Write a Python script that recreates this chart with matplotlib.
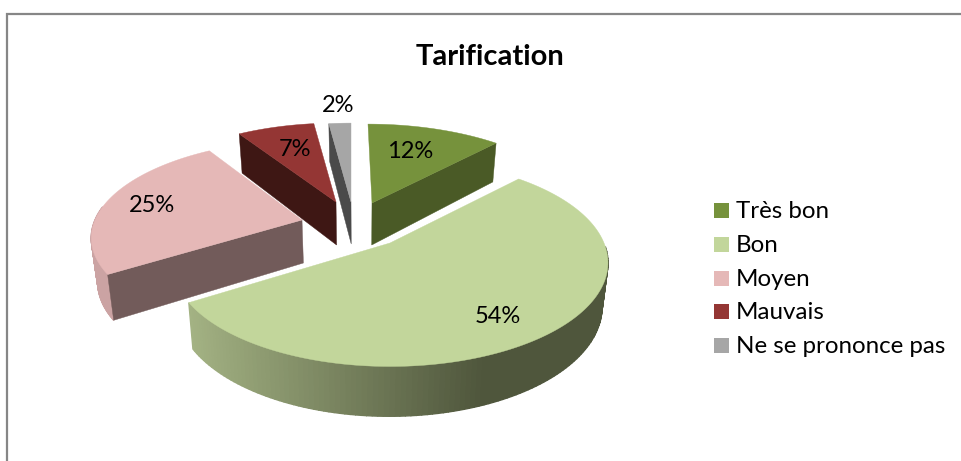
import numpy as np
import matplotlib
matplotlib.use("Agg")
import matplotlib.pyplot as plt
from matplotlib.patches import Polygon, Rectangle

plt.rcParams['font.family'] = ['Lato', 'DejaVu Sans']

title = "Tarification"
categories = ["Très bon", "Bon", "Moyen", "Mauvais", "Ne se prononce pas"]
values = [12, 54, 25, 7, 2]
top_colors = ["#76923c", "#c2d69b", "#e5b8b7", "#943634", "#a6a6a6"]
cut_colors = ["#4a5a26", "#7f8c64", "#725b5a", "#3e1714", "#4a4a4a"]

# per-slice projection: tip x, tip y, A, B, perspective k, shear h, depth
proj = {
    0: (372, 203, 208, 92, .166, -4, 42),
    1: (390, 243, 214, 100, .19, 0, 43),
    2: (302, 220, 207, 93, .16, 6, 43),
    3: (336, 202, 206, 92, .166, 0, 43),
    4: (351, 202, 206, 92, .166, 0, 42),
}
# angular range (degrees, clockwise from top) of the outer wall that faces the viewer
wall_range = {1: (92, 238), 2: (237, 278)}
label_pos = [(410, 151), (498, 316), (152, 205), (295, 149), (338, 105)]
legend_y = [211, 245, 279, 312, 346]

fig = plt.figure(figsize=(9.61, 4.61), dpi=100)
ax = fig.add_axes([0, 0, 1, 1])
ax.set_xlim(0, 961)
ax.set_ylim(461, 0)
ax.axis("off")

ax.plot([7, 7, 961], [461, 14, 14], color="#868686", lw=1.6, solid_joinstyle="miter")

edges = np.concatenate([[0], np.cumsum(values)]) / sum(values) * 2 * np.pi
VX = 360      # vanishing x of the vertical walls
CONV = 0.024  # convergence of the lower rim towards VX


def project(i, th):
    tx, ty, A, B, k, h, D = proj[i]
    c, s_ = np.cos(th), np.sin(th)
    s = 1 / (1 + k * c)
    x = tx + A * s_ * s + h * c
    y = ty - B * c * s
    return x, y, x + (VX - x) * CONV, y + D * s ** 0.7


def side_color(i, x):
    if i == 1:  # gradient along the front wall of the large slice
        t = np.clip((x - 190) / (485 - 190), 0, 1)
        a, b = np.array([163, 178, 131]), np.array([79, 86, 60])
        return (a + (b - a) * t) / 255
    return np.array([203, 163, 163]) / 255


for i in [4, 3, 0, 2, 1]:
    t0, t1 = edges[i], edges[i + 1]
    th = np.linspace(t0, t1, 160)
    x, y, xb, yb = project(i, th)
    tx, ty, D = proj[i][0], proj[i][1], proj[i][6]
    txb = tx + (VX - tx) * CONV
    if i in wall_range:
        lo, hi = np.radians(wall_range[i])
        for j in range(len(th) - 1):
            if th[j] < lo or th[j] > hi:
                continue
            col = side_color(i, x[j])
            ax.add_patch(Polygon([(x[j], y[j]), (x[j + 1], y[j + 1]),
                                  (xb[j + 1], yb[j + 1]), (xb[j], yb[j])],
                                 closed=True, fc=col, ec=col, lw=1.0))
    # visible cut faces
    if i == 0:
        ax.add_patch(Polygon([(tx, ty), (x[-1], y[-1]), (xb[-1], yb[-1]), (txb, ty + D)],
                             fc=cut_colors[i], ec=cut_colors[i], lw=0.3))
    if i in (2, 3, 4):
        ax.add_patch(Polygon([(tx, ty), (x[0], y[0]), (xb[0], yb[0]), (txb, ty + D)],
                             fc=cut_colors[i], ec=cut_colors[i], lw=0.3))
    # top face
    ax.add_patch(Polygon(np.vstack([[tx, ty], np.column_stack([x, y])]),
                         fc=top_colors[i], ec=top_colors[i], lw=0.3))

for v, (lx, ly) in zip(values, label_pos):
    ax.text(lx, ly, f"{v}%", ha="center", va="center", fontsize=17, color="black")

ax.text(490, 57, title, ha="center", va="center", fontsize=21, fontweight="bold", color="black")

for cat, col, ly in zip(categories, top_colors, legend_y):
    ax.add_patch(Rectangle((714, ly - 8), 15, 15, fc=col, ec="none"))
    ax.text(736, ly, cat, ha="left", va="center", fontsize=17.4, color="black")

fig.savefig("out.png", dpi=100)
